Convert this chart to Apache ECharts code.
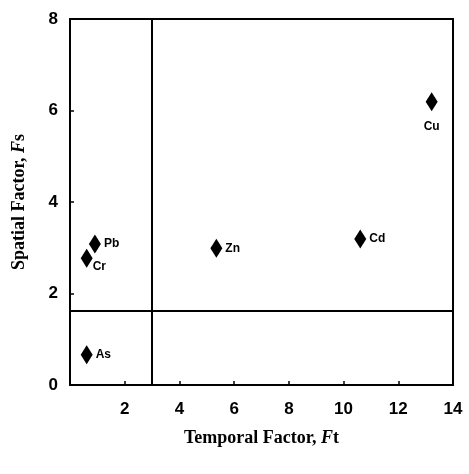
<!DOCTYPE html>
<html>
<head>
<meta charset="utf-8">
<script src="https://cdn.jsdelivr.net/npm/echarts@6/dist/echarts.min.js"></script>
<style>
  html, body { margin: 0; padding: 0; background: #fff; }
  #main { width: 469px; height: 474px; }
</style>
</head>
<body>
<div id="main"></div>
<script>
// 元素及其时间/空间因子
var elements = ['Pb', 'Cr', 'As', 'Zn', 'Cd', 'Cu'];
var temporal = [0.91, 0.61, 0.61, 5.35, 10.61, 13.22];
var spatial = [3.08, 2.77, 0.66, 2.99, 3.19, 6.19];
var labelPos = ['right', 'bottom', 'right', 'right', 'right', 'bottom'];

// 分隔线
var splitX = 3;
var splitY = 1.63;

var xTicks = [0, 14, 2];
var yTicks = [0, 8, 2];

var points = elements.map(function (name, i) {
    var lbl = { show: true, position: labelPos[i], formatter: name };
    if (name === 'Cr') { lbl.position = [12, 12]; } // 右下方
    if (name === 'Cu') { lbl.distance = 9; }
    return { name: name, value: [temporal[i], spatial[i]], label: lbl };
});

var chart = echarts.init(document.getElementById('main'));
chart.setOption({
    backgroundColor: '#ffffff',
    animation: false,
    grid: { left: 70, right: 16, top: 19, bottom: 89, show: true, borderColor: '#000', borderWidth: 2, backgroundColor: 'transparent' },
    xAxis: {
        type: 'value',
        min: xTicks[0], max: xTicks[1], interval: xTicks[2],
        name: '{n|Temporal Factor, }{i|F}{n|t}',
        nameLocation: 'middle',
        nameGap: 44,
        nameTextStyle: {
            rich: {
                n: { fontFamily: 'Liberation Serif', fontWeight: 'bold', fontSize: 18, color: '#000' },
                i: { fontFamily: 'Liberation Serif', fontWeight: 'bold', fontStyle: 'italic', fontSize: 18, color: '#000' }
            }
        },
        axisLine: { show: true, lineStyle: { color: '#000', width: 2 } },
        axisTick: { show: true, inside: true, length: 4, lineStyle: { color: '#000', width: 1.5 } },
        splitLine: { show: false },
        axisLabel: {
            margin: 16,
            fontFamily: 'Liberation Sans', fontWeight: 'bold', fontSize: 17, color: '#000',
            formatter: function (v) { return v === 0 ? '' : String(v); }
        }
    },
    yAxis: {
        type: 'value',
        min: yTicks[0], max: yTicks[1], interval: yTicks[2],
        name: '{n|Spatial Factor, }{i|F}{n|s}',
        nameLocation: 'middle',
        nameGap: 42,
        nameTextStyle: {
            rich: {
                n: { fontFamily: 'Liberation Serif', fontWeight: 'bold', fontSize: 18, color: '#000' },
                i: { fontFamily: 'Liberation Serif', fontWeight: 'bold', fontStyle: 'italic', fontSize: 18, color: '#000' }
            }
        },
        axisLine: { show: true, lineStyle: { color: '#000', width: 2 } },
        axisTick: { show: true, inside: true, length: 4, lineStyle: { color: '#000', width: 1.5 } },
        splitLine: { show: false },
        axisLabel: {
            margin: 12,
            fontFamily: 'Liberation Sans', fontWeight: 'bold', fontSize: 17, color: '#000'
        }
    },
    series: [{
        type: 'scatter',
        symbol: 'diamond',
        symbolSize: [12, 19],
        itemStyle: { color: '#000', opacity: 1 },
        label: {
            color: '#000', fontFamily: 'Liberation Sans', fontWeight: 'bold', fontSize: 12, distance: 3
        },
        data: points,
        markLine: {
            silent: true,
            symbol: 'none',
            label: { show: false },
            lineStyle: { color: '#000', width: 2, type: 'solid', opacity: 1 },
            data: [{ xAxis: splitX }, { yAxis: splitY }]
        }
    }]
});
</script>
</body>
</html>
